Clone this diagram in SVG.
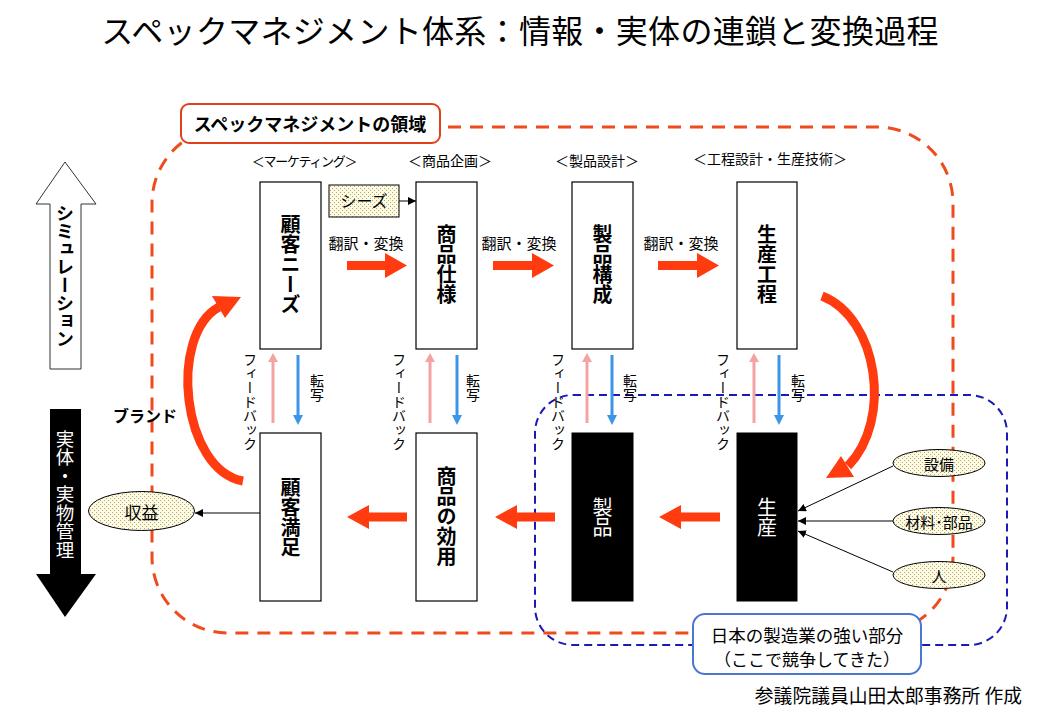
<svg xmlns="http://www.w3.org/2000/svg" width="1040" height="720" viewBox="0 0 1040 720">
<style>
text{font-family:"Noto Sans CJK JP","Noto Sans CJK SC",sans-serif;fill:#000;dominant-baseline:central;text-anchor:middle}
.vt{writing-mode:vertical-rl;text-anchor:middle}
.box{fill:#fff;stroke:#000;stroke-width:1.2}
.blk{fill:#000;stroke:#000}
.lbl{font-size:20px;font-weight:700}
.wl{font-size:20px;fill:#fff}
.hdr{font-size:14px}
.tr{font-size:15px}
.fb{font-size:14px}
.red{fill:#ff3b0f}
.pink{stroke:#f4a3a3;stroke-width:3}
.pinkf{fill:#f4a3a3}
.blue{stroke:#3d95e8;stroke-width:3}
.bluef{fill:#3d95e8}
.thin{stroke:#000;stroke-width:1;fill:none}
.dot{fill:url(#dots);stroke:#000;stroke-width:1}
</style>
<defs>
<pattern id="dots" width="4" height="4" patternUnits="userSpaceOnUse">
<rect width="4" height="4" fill="#fffbe0"/>
<rect x="0" y="0" width="1" height="1" fill="#a8a888"/>
<rect x="2" y="2" width="1" height="1" fill="#a8a888"/>
</pattern>
<marker id="ah" viewBox="0 0 10 10" refX="10" refY="5" markerWidth="8" markerHeight="8" markerUnits="userSpaceOnUse" orient="auto">
<path d="M0,0 L10,5 L0,10 z" fill="#000"/>
</marker>
</defs>
<rect width="1040" height="720" fill="#fff"/>

<text x="520" y="29" style="font-size:32px;letter-spacing:0.3px">スペックマネジメント体系：情報・実体の連鎖と変換過程</text>

<g id="regions">
<rect x="152" y="127" width="801" height="506" rx="76" fill="none" stroke="#f04b1e" stroke-width="3" stroke-dasharray="13 9"/>
<rect x="535" y="395" width="472" height="250" rx="38" fill="none" stroke="#1a1ab4" stroke-width="2" stroke-dasharray="8 5"/>
</g>

<g id="region-label">
<rect x="181" y="104" width="259" height="39" rx="8" fill="#fff" stroke="#e0401a" stroke-width="2"/>
<text x="310" y="123" style="font-size:18px;font-weight:700">スペックマネジメントの領域</text>
</g>

<g id="headers">
<text class="hdr" x="304" y="160" style="font-size:13px;letter-spacing:-1.3px">＜マーケティング＞</text>
<text class="hdr" x="450" y="160">＜商品企画＞</text>
<text class="hdr" x="597" y="160">＜製品設計＞</text>
<text class="hdr" x="770" y="158">＜工程設計・生産技術＞</text>
</g>

<g id="sim-arrow">
<polygon points="65,162 96,204 81,204 81,369 50,369 50,204 36,204" fill="#fff" stroke="#333" stroke-width="1"/>
<text class="vt" x="65" y="276" style="font-size:18px;font-weight:700">シミュレーション</text>
</g>
<g id="real-arrow">
<polygon points="50,409 81,409 81,574 96,574 65,617 36,574 50,574" fill="#000"/>
<text class="vt" x="65" y="494" style="font-size:18.5px;fill:#fff">実体・実物管理</text>
</g>

<g id="n-needs"><rect class="box" x="260" y="182" width="61" height="167"/><text class="vt lbl" x="290.5" y="264">顧客ニーズ</text></g>
<g id="n-spec"><rect class="box" x="416" y="182" width="61" height="167"/><text class="vt lbl" x="446.5" y="264">商品仕様</text></g>
<g id="n-struct"><rect class="box" x="572" y="182" width="61" height="167"/><text class="vt lbl" x="602.5" y="264">製品構成</text></g>
<g id="n-process"><rect class="box" x="737" y="182" width="60" height="167"/><text class="vt lbl" x="767" y="264">生産工程</text></g>

<g id="n-satis"><rect class="box" x="260" y="433" width="61" height="168"/><text class="vt lbl" x="290.5" y="517">顧客満足</text></g>
<g id="n-utility"><rect class="box" x="416" y="433" width="61" height="168"/><text class="vt lbl" x="446.5" y="516">商品の効用</text></g>
<g id="n-product"><rect class="blk" x="572" y="433" width="61" height="168"/><text class="vt wl" x="602.5" y="517">製品</text></g>
<g id="n-production"><rect class="blk" x="737" y="433" width="60" height="168"/><text class="vt wl" x="767" y="517">生産</text></g>

<g id="n-seeds"><rect class="dot" x="329" y="185" width="70" height="32"/><text x="364" y="200" style="font-size:16px">シーズ</text></g>
<g id="n-profit"><ellipse class="dot" cx="141.5" cy="511" rx="53" ry="19.5"/><text x="141.5" y="511" style="font-size:17px">収益</text></g>
<g id="n-equip"><ellipse class="dot" cx="939" cy="463" rx="46" ry="13.5"/><text x="939" y="463" style="font-size:15px">設備</text></g>
<g id="n-material"><ellipse class="dot" cx="939" cy="521" rx="46" ry="13.5"/><text x="939" y="521" style="font-size:15px">材料･部品</text></g>
<g id="n-people"><ellipse class="dot" cx="939" cy="575" rx="46" ry="13.5"/><text x="939" y="575" style="font-size:15px">人</text></g>

<g id="n-japan">
<rect x="693" y="614" width="228" height="60" rx="12" fill="#fff" stroke="#4a78d0" stroke-width="2"/>
<text x="807" y="634" style="font-size:17.5px">日本の製造業の強い部分</text>
<text x="807" y="658" style="font-size:17px">（ここで競争してきた）</text>
</g>

<g id="connectors">
<text class="tr" x="366" y="242">翻訳・変換</text>
<text class="tr" x="519" y="242">翻訳・変換</text>
<text class="tr" x="681" y="242">翻訳・変換</text>
<polygon class="red" points="347,261 385,261 385,253 407,265.5 385,278 385,270 347,270"/>
<polygon class="red" points="493,261 532,261 532,253 554,265.5 532,278 532,270 493,270"/>
<polygon class="red" points="658,261 697,261 697,253 719,265.5 697,278 697,270 658,270"/>
<polygon class="red" points="407,512.5 369,512.5 369,505 347,517 369,529 369,521.5 407,521.5"/>
<polygon class="red" points="555,512.5 517,512.5 517,505 495,517 517,529 517,521.5 555,521.5"/>
<polygon class="red" points="720,512.5 681,512.5 681,505 659,517 681,529 681,521.5 720,521.5"/>
<path d="M243,481 C182,470 168,335 219,307" fill="none" stroke="#ff3b0f" stroke-width="9"/>
<polygon class="red" points="212,296 241,297 225,318"/>
<path d="M822,296 C878,318 893,420 848,466" fill="none" stroke="#ff3b0f" stroke-width="9"/>
<polygon class="red" points="841,456 854,477 826,478"/>
<g>
<line class="pink" x1="273" y1="423" x2="273" y2="361"/><polygon class="pinkf" points="273,353 268,362 278,362"/>
<line class="blue" x1="298" y1="355" x2="298" y2="416"/><polygon class="bluef" points="298,425 293,415 303,415"/>
<line class="pink" x1="430" y1="423" x2="430" y2="361"/><polygon class="pinkf" points="430,353 425,362 435,362"/>
<line class="blue" x1="457" y1="355" x2="457" y2="416"/><polygon class="bluef" points="457,425 452,415 462,415"/>
<line class="pink" x1="587" y1="423" x2="587" y2="361"/><polygon class="pinkf" points="587,353 582,362 592,362"/>
<line class="blue" x1="612" y1="355" x2="612" y2="416"/><polygon class="bluef" points="612,425 607,415 617,415"/>
<line class="pink" x1="754" y1="423" x2="754" y2="361"/><polygon class="pinkf" points="754,353 749,362 759,362"/>
<line class="blue" x1="779" y1="355" x2="779" y2="416"/><polygon class="bluef" points="779,425 774,415 784,415"/>
</g>
<text class="vt fb" x="250" y="402">フィードバック</text>
<text class="vt fb" x="399" y="402">フィードバック</text>
<text class="vt fb" x="558" y="402">フィードバック</text>
<text class="vt fb" x="723" y="402">フィードバック</text>
<text class="vt fb" x="317" y="388">転写</text>
<text class="vt fb" x="473" y="388">転写</text>
<text class="vt fb" x="630" y="388">転写</text>
<text class="vt fb" x="798" y="388">転写</text>
<line class="thin" x1="399" y1="201" x2="416" y2="201" marker-end="url(#ah)"/>
<line class="thin" x1="260" y1="513" x2="195" y2="513" marker-end="url(#ah)"/>
<line class="thin" x1="893" y1="466" x2="798" y2="511" marker-end="url(#ah)"/>
<line class="thin" x1="893" y1="521" x2="798" y2="521" marker-end="url(#ah)"/>
<line class="thin" x1="893" y1="572" x2="798" y2="531" marker-end="url(#ah)"/>
</g>

<text x="145" y="415" style="font-size:16px;font-weight:700">ブランド</text>
<text x="1022" y="694" style="font-size:18.8px;text-anchor:end">参議院議員山田太郎事務所 作成</text>
</svg>
